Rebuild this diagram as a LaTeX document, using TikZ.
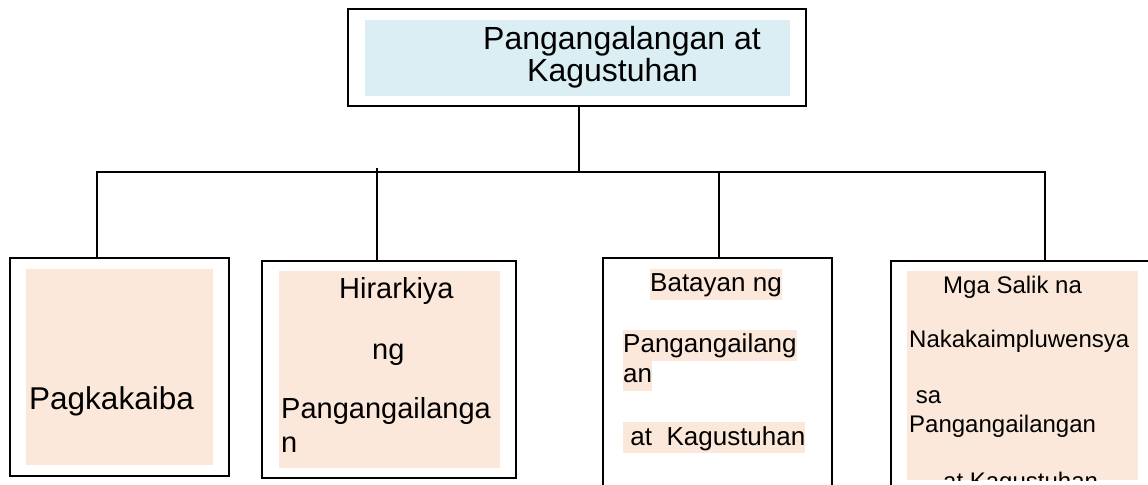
\documentclass[tikz,border=0pt]{standalone}
\usepackage{fontspec}
\setmainfont{Liberation Sans}
\definecolor{peach}{HTML}{FCE8DA}
\definecolor{aqua}{HTML}{DAEEF3}
\begin{document}
\begin{tikzpicture}[x=1bp,y=-1bp,
  box/.style={draw=black, line width=2.2bp, inner sep=0pt},
  conn/.style={draw=black, line width=1.6bp},
  txt/.style={anchor=base west, inner sep=0pt},
  hl/.style={txt, fill=peach, text height=23bp, text depth=8bp},
  fa/.style={font=\fontsize{32bp}{38bp}\selectfont},
  fb/.style={font=\fontsize{31.5bp}{38bp}\selectfont},
  fc/.style={font=\fontsize{29bp}{34bp}\selectfont},
  fd/.style={font=\fontsize{26bp}{31bp}\selectfont},
  fe/.style={font=\fontsize{24bp}{28bp}\selectfont}]
\clip (0,0) rectangle (1148,485);
\fill[white] (0,0) rectangle (1148,485);
% boxes
\node[box, minimum width=458bp, minimum height=97bp] (top) at (577,57.5) {};
\node[box, minimum width=219bp, minimum height=218bp] (b1) at (119.5,367) {};
\node[box, minimum width=254bp, minimum height=217bp] (b2) at (389,369.5) {};
\node[box, minimum width=229bp, minimum height=250bp] (b3) at (717.5,383) {};
\node[box, minimum width=280bp, minimum height=250bp] (b4) at (1031,386) {};
% inner fills
\fill[aqua] (365,20) rectangle (790,96);
\fill[peach] (26,269) rectangle (213,465);
\fill[peach] (279,271) rectangle (500,468);
\fill[peach] (907,271) rectangle (1138,480);
% connectors
\coordinate (j0) at (579,172);
\coordinate (bL) at (97,172);
\coordinate (bR) at (1045,172);
\coordinate (t2) at (377,168);
\coordinate (t3) at (719,172);
\draw[conn] (top.south -| j0) -- (j0);
\draw[conn] (bL |- b1.north) -- (bL) -- (bR) -- (bR |- b4.north);
\draw[conn] (t2) -- (t2 |- b2.north);
\draw[conn] (t3) -- (t3 |- b3.north);
% texts
\node[txt,fa] (ta) at (483,50) {Pangangalangan at};
\node[txt,fa] (tb) at (527,82) {Kagustuhan};
\node[txt,fb] (p1) at (29,409) {Pagkakaiba};
\node[txt,fc] (h1) at (339,299) {Hirarkiya};
\node[txt,fc] (h2) at (372,360) {ng};
\node[txt,fc] (h3) at (281,418) {Pangangailanga};
\node[txt,fc] (h4) at (281,452) {n};
\node[hl,fd] (c1) at (650,292) {Batayan ng};
\node[hl,fd] (c2) at (623,353) {Pangangailang};
\node[hl,fd] (c3) at (623,383) {an};
\node[hl,fd] (c4) at (623,445) {\ at\ \ Kagustuhan};
\begin{scope}
\clip (907,271) rectangle (1138,480);
\node[txt,fe] (d1) at (943,294) {Mga Salik na};
\node[txt,fe] (d2) at (909,348) {Nakakaimpluwensya};
\node[txt,fe] (d3) at (909,403) {\ sa};
\node[txt,fe] (d4) at (909,432) {Pangangailangan};
\node[txt,fe] (d5) at (943,489) {at Kagustuhan};
\end{scope}
\end{tikzpicture}
\end{document}
